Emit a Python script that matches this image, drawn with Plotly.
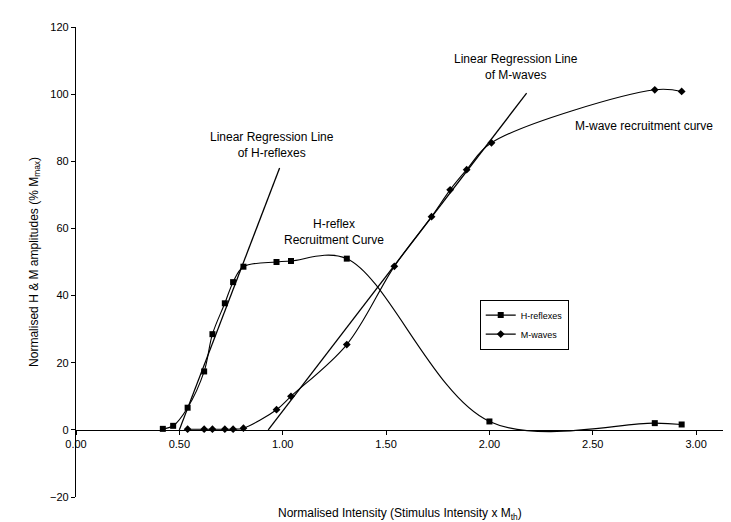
import plotly.graph_objects as go

# H-reflex recruitment data (normalised intensity, % Mmax)
h_x = [0.42, 0.47, 0.54, 0.62, 0.66, 0.72, 0.76, 0.81, 0.97, 1.04, 1.31, 2.00, 2.80, 2.93]
h_y = [0.3, 1.2, 6.6, 17.4, 28.5, 37.7, 44.0, 48.6, 50.0, 50.3, 51.0, 2.5, 2.0, 1.6]

# M-wave recruitment data
m_x = [0.54, 0.62, 0.66, 0.72, 0.76, 0.81, 0.97, 1.04, 1.31, 1.54, 1.72, 1.81, 1.89, 2.01, 2.80, 2.93]
m_y = [0.2, 0.2, 0.2, 0.2, 0.2, 0.5, 6.0, 10.0, 25.4, 48.7, 63.5, 71.5, 77.5, 85.5, 101.3, 100.8]

# Linear regression lines (end points)
h_reg_x = [0.50, 0.985]
h_reg_y = [0.0, 78.0]
m_reg_x = [0.93, 2.18]
m_reg_y = [0.0, 100.3]

x_ticks = [0.0, 0.5, 1.0, 1.5, 2.0, 2.5, 3.0]
y_ticks = [-20, 0, 20, 40, 60, 80, 100, 120]

FONT = "Liberation Sans, Arial, sans-serif"

fig = go.Figure()
fig.add_trace(go.Scatter(x=h_reg_x, y=h_reg_y, mode="lines",
                         line=dict(color="black", width=1.3), showlegend=False, hoverinfo="skip"))
fig.add_trace(go.Scatter(x=m_reg_x, y=m_reg_y, mode="lines",
                         line=dict(color="black", width=1.3), showlegend=False, hoverinfo="skip"))
fig.add_trace(go.Scatter(x=h_x, y=h_y, mode="lines+markers", name="H-reflexes",
                         line=dict(color="black", width=1.1, shape="spline", smoothing=1),
                         marker=dict(symbol="square", size=6, color="black")))
fig.add_trace(go.Scatter(x=m_x, y=m_y, mode="lines+markers", name="M-waves",
                         line=dict(color="black", width=1.1, shape="spline", smoothing=1),
                         marker=dict(symbol="diamond", size=6, color="black")))

ann_font = dict(family=FONT, size=12, color="black")
annotations = [
    dict(x=0.95, y=85, text="Linear Regression Line<br>of H-reflexes", showarrow=False, font=ann_font),
    dict(x=1.25, y=59, text="H-reflex<br>Recruitment Curve", showarrow=False, font=ann_font),
    dict(x=2.13, y=108, text="Linear Regression Line<br>of M-waves", showarrow=False, font=ann_font),
    dict(x=2.75, y=90.4, text="M-wave recruitment curve", showarrow=False, font=ann_font),
    dict(x=0.5, y=-0.036, xref="paper", yref="paper", yanchor="middle",
         text="Normalised Intensity (Stimulus Intensity x M<sub>th</sub>)", showarrow=False, font=ann_font),
    dict(x=-0.079, y=0.5, xref="paper", yref="paper", textangle=-90,
         text="Normalised H &amp; M amplitudes (% M<sub>max</sub>)", showarrow=False, font=ann_font),
]

fig.update_layout(
    width=731, height=522,
    margin=dict(l=68, r=16, t=19, b=33),
    paper_bgcolor="white", plot_bgcolor="white",
    font=dict(family=FONT, size=11, color="black"),
    annotations=annotations,
    xaxis=dict(range=[0, 3.13], tickvals=x_ticks, tickformat=".2f",
               anchor="free", position=20 / 140,
               showline=True, linecolor="black", linewidth=1.2,
               ticks="outside", ticklen=4, tickcolor="black",
               showgrid=False, zeroline=False,
               tickfont=dict(family=FONT, size=11, color="black")),
    yaxis=dict(range=[-20, 120], tickvals=y_ticks,
               showline=True, linecolor="black", linewidth=1.2,
               ticks="outside", ticklen=4, tickcolor="black",
               showgrid=False, zeroline=False,
               tickfont=dict(family=FONT, size=11, color="black")),
    legend=dict(x=0.624, y=0.42, xanchor="left", yanchor="top",
                bgcolor="white", bordercolor="black", borderwidth=1,
                font=dict(family=FONT, size=9, color="black"),
                itemwidth=30, tracegroupgap=0),
    showlegend=True,
)

fig.write_html("out.html")
